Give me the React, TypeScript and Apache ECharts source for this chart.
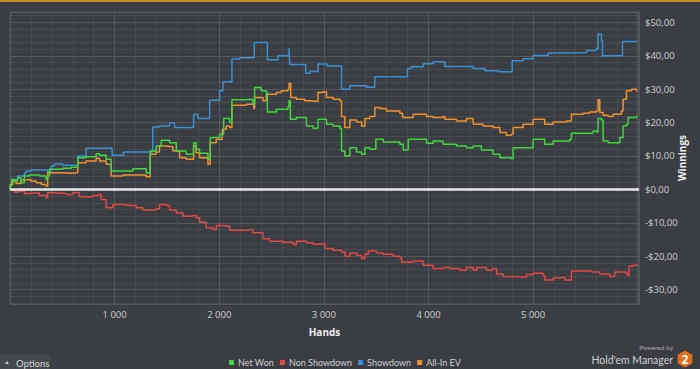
import React, { useEffect, useRef } from 'react';
import * as echarts from 'echarts';

const BG = '#3a3d41';
const xMin = 0;
const xMax = 6012;
const yMin = -34.3;
const yMax = 53.1;

const seriesNames = ['Net Won', 'Non Showdown', 'Showdown', 'All-In EV'];
const seriesColors = ['#3fd63f', '#e2474a', '#3a90d2', '#ee922f'];

const netWon: [number, number][] = [
  [0, 0], [3, 1.0], [16, 3.0], [41, 2.5], [73, 3.5], [105, 2.0], [137, 4.0], [185, 4.3], [281, 4.0],
  [345, 3.0], [360, 4.0], [376, 6.0], [504, 6.3], [584, 6.6], [648, 9.5], [727, 9.8], [823, 10.7],
  [855, 10.2], [919, 9.0], [967, 5.5], [1174, 6.2], [1302, 5.0], [1340, 11.5], [1397, 13.0],
  [1445, 14.7], [1525, 14.0], [1589, 11.5], [1684, 10.5], [1755, 14.0], [1780, 12.0], [1812, 10.8],
  [1892, 9.0], [1914, 15.5], [2003, 16.5], [2042, 21.2], [2099, 20.0], [2121, 26.8], [2259, 27.0],
  [2322, 25.5], [2338, 30.5], [2402, 29.5], [2450, 29.0], [2460, 23.2], [2546, 24.0], [2657, 24.8],
  [2667, 26.5], [2680, 21.0], [2737, 21.5], [2833, 19.0], [2897, 18.3], [2944, 21.0], [3025, 19.5],
  [3089, 19.0], [3153, 18.2], [3169, 11.5], [3200, 10.0], [3248, 12.5], [3312, 11.2], [3360, 10.5],
  [3392, 12.5], [3440, 12.0], [3497, 15.0], [3567, 14.2], [3726, 13.5], [3758, 11.8], [3806, 15.0],
  [3885, 15.0], [3981, 13.8], [4045, 14.5], [4140, 13.5], [4268, 13.0], [4363, 12.5], [4427, 13.0],
  [4506, 11.8], [4618, 10.5], [4682, 9.5], [4793, 9.2], [4809, 12.5], [5000, 15.0], [5111, 13.5],
  [5191, 14.5], [5350, 15.0], [5366, 16.8], [5478, 16.8], [5573, 17.5], [5605, 17.2], [5621, 21.2],
  [5653, 20.8], [5669, 14.5], [5717, 14.0], [5828, 15.5], [5860, 19.0], [5892, 19.5], [5908, 21.5],
  [5988, 22.0], [5995, 21.8],
];

const nonShowdown: [number, number][] = [
  [0, 0], [3, -0.2], [41, -0.8], [89, -0.5], [137, -1.2], [185, -1.0], [281, -1.8], [345, -2.5],
  [360, -1.0], [408, -1.2], [536, -1.5], [600, -1.0], [664, -2.2], [791, -1.8], [839, -1.5],
  [871, -3.0], [919, -5.5], [983, -4.5], [1110, -4.8], [1206, -5.5], [1270, -6.2], [1397, -5.8],
  [1429, -4.5], [1493, -4.8], [1525, -6.2], [1589, -7.0], [1652, -8.0], [1716, -7.8], [1780, -8.5],
  [1812, -9.8], [1876, -11.5], [1940, -12.0], [1971, -10.8], [2035, -11.0], [2099, -12.2],
  [2259, -12.0], [2322, -13.0], [2418, -14.8], [2482, -15.5], [2609, -15.8], [2705, -16.5],
  [2737, -15.5], [2833, -16.0], [2898, -16.4], [2962, -16.2], [3010, -17.7], [3089, -18.2],
  [3169, -18.7], [3200, -20.0], [3248, -19.0], [3312, -19.7], [3360, -20.7], [3392, -19.4],
  [3424, -18.4], [3503, -19.0], [3567, -19.4], [3662, -20.0], [3726, -20.4], [3742, -21.7],
  [3853, -21.4], [3949, -22.7], [4045, -23.7], [4140, -23.4], [4204, -23.7], [4300, -24.2],
  [4363, -23.4], [4427, -24.2], [4459, -23.4], [4554, -24.2], [4612, -23.7], [4650, -25.3],
  [4714, -26.1], [4841, -26.3], [4936, -25.5], [5000, -25.1], [5096, -25.8], [5112, -27.1],
  [5191, -26.5], [5255, -26.3], [5303, -27.1], [5357, -27.1], [5366, -24.4], [5478, -24.4],
  [5558, -24.7], [5637, -25.3], [5733, -26.1], [5780, -24.7], [5892, -25.3], [5908, -25.8],
  [5917, -23.0], [5956, -22.7], [5995, -23.0],
];

const showdown: [number, number][] = [
  [0, 0], [3, 1.5], [25, 3.0], [73, 4.0], [137, 4.8], [153, 5.5], [200, 5.8], [360, 4.8], [392, 7.0],
  [424, 7.6], [504, 7.2], [648, 10.0], [727, 12.3], [976, 10.2], [1085, 11.2], [1365, 18.7],
  [1429, 19.0], [1525, 19.9], [1573, 18.5], [1755, 22.5], [1796, 21.2], [1908, 26.7], [2003, 29.5],
  [2035, 32.2], [2121, 39.0], [2195, 39.4], [2335, 44.0], [2460, 38.8], [2562, 40.0], [2667, 42.3],
  [2673, 37.4], [2826, 34.8], [2865, 35.3], [2944, 37.5], [3030, 36.9], [3169, 30.0], [3248, 31.0],
  [3408, 30.6], [3487, 33.7], [3799, 36.2], [3838, 36.7], [3949, 37.6], [4045, 38.2], [4156, 36.8],
  [4427, 36.2], [4538, 35.5], [4666, 35.2], [4800, 38.5], [4905, 39.1], [5000, 40.1], [5144, 40.8],
  [5319, 41.0], [5510, 41.6], [5605, 42.1], [5621, 46.5], [5653, 44.5], [5663, 40.0], [5854, 44.3],
  [5995, 44.3],
];

const allInEV: [number, number][] = [
  [0, 0], [3, 1.5], [25, 2.5], [57, 1.8], [105, 2.8], [137, 3.0], [200, 2.5], [250, 2.0], [300, 1.5],
  [340, 1.0], [360, 5.0], [504, 4.8], [584, 5.0], [648, 8.0], [727, 8.5], [823, 9.3], [855, 8.5],
  [919, 7.5], [967, 4.0], [1078, 4.3], [1302, 3.8], [1340, 10.5], [1397, 11.2], [1429, 13.0],
  [1493, 12.8], [1557, 11.5], [1621, 9.5], [1684, 9.0], [1755, 13.0], [1780, 11.0], [1812, 9.5],
  [1892, 7.5], [1914, 14.0], [1971, 15.0], [2029, 18.0], [2067, 19.0], [2099, 18.5], [2121, 25.2],
  [2259, 25.5], [2329, 24.2], [2338, 27.5], [2418, 26.5], [2450, 28.5], [2546, 29.0], [2593, 29.5],
  [2657, 30.0], [2667, 31.8], [2683, 27.5], [2737, 27.0], [2817, 26.5], [2881, 26.3], [2944, 29.0],
  [2978, 29.2], [3025, 27.5], [3089, 27.0], [3153, 26.5], [3169, 21.8], [3200, 18.5], [3248, 20.8],
  [3312, 20.2], [3360, 19.0], [3392, 21.2], [3440, 21.8], [3487, 24.5], [3535, 24.2], [3599, 23.5],
  [3726, 22.8], [3752, 21.5], [3853, 22.5], [3981, 21.8], [4045, 21.5], [4140, 21.8], [4156, 21.0],
  [4268, 20.5], [4363, 21.2], [4427, 19.5], [4522, 19.0], [4618, 18.5], [4682, 17.0], [4745, 16.2],
  [4793, 16.5], [4809, 18.5], [4905, 19.5], [5000, 21.0], [5111, 19.5], [5191, 20.2], [5319, 20.5],
  [5366, 22.5], [5478, 22.8], [5541, 23.2], [5605, 23.5], [5621, 26.8], [5637, 23.0], [5669, 22.2],
  [5717, 21.8], [5764, 22.5], [5844, 23.5], [5860, 27.0], [5892, 29.5], [5939, 30.0], [5987, 29.5],
  [5995, 29.5],
];

const seriesData = [netWon, nonShowdown, showdown, allInEV];
const drawOrder = [2, 1, 3, 0];

function fmtMoney(v: number): string {
  if (Math.abs(v % 10) > 1e-6) return '';
  const s = Math.abs(v).toFixed(2).replace('.', ',');
  return (v < 0 ? '-$' : '$') + s;
}

function fmtHands(v: number): string {
  if (v <= 0 || v >= 6000 || v % 1000 !== 0) return '';
  return `${Math.floor(v / 1000)} ${String(v % 1000).padStart(3, '0')}`;
}

export default function App() {
  const ref = useRef<HTMLDivElement>(null);
  useEffect(() => {
    document.body.style.margin = '0';
    const chart = echarts.init(ref.current!, null, { renderer: 'svg' });
    const font = "'Open Sans', sans-serif";
    const font2 = "Lato, sans-serif";
    const hexR = 8.5;
    const hexPts: number[][] = [];
    for (let i = 0; i < 6; i++) {
      const a = (Math.PI / 3) * i - Math.PI / 2;
      hexPts.push([hexR * Math.cos(a), hexR * Math.sin(a)]);
    }
    const series: any[] = drawOrder.map((idx, k) => ({
      name: seriesNames[idx],
      type: 'line',
      step: 'end',
      data: seriesData[idx],
      showSymbol: false,
      symbol: 'none',
      lineStyle: { width: 1.5, color: seriesColors[idx] },
      itemStyle: { color: seriesColors[idx] },
      z: 3 + k,
      markLine: k === 0 ? {
        silent: true,
        symbol: 'none',
        label: { show: false },
        lineStyle: { color: '#e8e8e8', width: 2.5, type: 'solid' },
        data: [{ yAxis: 0 }],
        z: 10,
      } : undefined,
    }));
    const option: any = {
      animation: false,
      backgroundColor: BG,
      textStyle: { fontFamily: font },
      grid: {
        left: 10, right: 61, top: 12, bottom: 65,
        show: true, borderColor: '#56595e', borderWidth: 1,
        containLabel: false, outerBoundsMode: 'none',
      },
      legend: {
        data: seriesNames,
        left: 224, top: 353,
        itemWidth: 5, itemHeight: 5, itemGap: 6,
        icon: 'rect',
        textStyle: { color: '#d0d0d0', fontSize: 9, fontFamily: font2, padding: [0, 0, 0, -1] },
      },
      xAxis: {
        type: 'value', min: xMin, max: xMax, interval: 1000,
        name: 'Hands', nameLocation: 'middle', nameGap: 23,
        nameTextStyle: { color: '#f0f0f0', fontWeight: 'bold', fontSize: 10, fontFamily: font },
        axisLine: { show: false },
        axisTick: { show: true, length: 3, lineStyle: { color: '#56595e' } },
        minorTick: { show: true, splitNumber: 5, length: 3, lineStyle: { color: '#56595e' } },
        axisLabel: { color: '#d0d0d0', fontSize: 9.5, margin: 5, formatter: fmtHands, showMinLabel: false, showMaxLabel: false },
        splitLine: { show: true, lineStyle: { color: '#56595e', width: 1 } },
        minorSplitLine: { show: true, lineStyle: { color: '#474a4e', width: 1 } },
      },
      yAxis: {
        type: 'value', position: 'right', min: yMin, max: yMax, splitNumber: 9,
        name: 'Winnings', nameLocation: 'middle', nameGap: 38, nameRotate: 90, nameMoveOverlap: false,
        nameTextStyle: { color: '#f0f0f0', fontWeight: 'bold', fontSize: 10, fontFamily: font },
        axisLine: { show: false },
        axisTick: { show: true, length: 3, lineStyle: { color: '#56595e' } },
        minorTick: { show: true, splitNumber: 5, length: 3, lineStyle: { color: '#56595e' } },
        axisLabel: { color: '#d0d0d0', fontSize: 9.5, margin: 6, formatter: fmtMoney, showMinLabel: false, showMaxLabel: false },
        splitLine: { show: true, lineStyle: { color: '#56595e', width: 1 } },
        minorSplitLine: { show: true, lineStyle: { color: '#474a4e', width: 1 } },
      },
      graphic: [
        { type: 'rect', left: 0, top: 0, shape: { width: 700, height: 2 }, style: { fill: '#c98a2d' } },
        {
          type: 'group', left: 0, top: 355,
          children: [
            { type: 'rect', x: 0, y: 0, shape: { width: 50, height: 14 }, style: { fill: '#45484c' } },
            { type: 'polygon', x: 7, y: 7.5, shape: { points: [[-2, 1.5], [2, 1.5], [0, -1.5]] }, style: { fill: '#cfcfcf' } },
            { type: 'text', x: 16, y: 8, style: { text: 'Options', fill: '#d4d4d4', fontSize: 9.5, fontFamily: font2, verticalAlign: 'middle' } },
          ],
        },
        { type: 'text', right: 27, top: 344, style: { text: 'Powered by', fill: '#a8a8a8', fontSize: 6.5, fontFamily: font2 } },
        { type: 'text', right: 27, top: 354, style: { text: "Hold'em Manager", fill: '#d0d0d0', fontSize: 10.5, fontFamily: font2 } },
        {
          type: 'group', x: 685, y: 359,
          children: [
            { type: 'polygon', shape: { points: hexPts }, style: { fill: '#e0701e' } },
            { type: 'text', x: 0, y: 0.5, style: { text: '2', fill: '#ffffff', fontSize: 12, fontWeight: 'bold', fontFamily: font, align: 'center', verticalAlign: 'middle' } },
          ],
        },
      ],
      series,
    };
    chart.setOption(option);
    return () => chart.dispose();
  }, []);
  return <div ref={ref} style={{ width: 700, height: 369 }} />;
}
